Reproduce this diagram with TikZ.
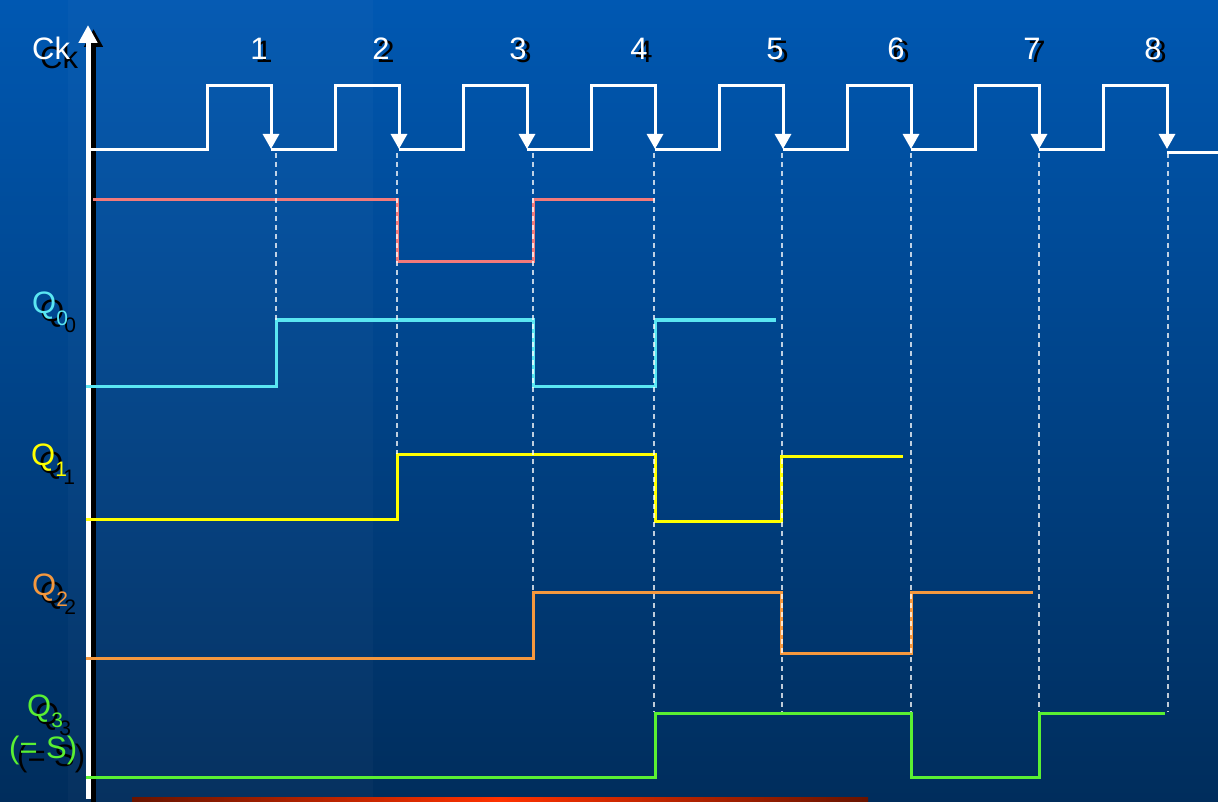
\documentclass[tikz,border=0pt]{standalone}
\usepackage{fontspec}
\setmainfont{Liberation Sans}
\usepackage{tikz}
\usetikzlibrary{arrows.meta}
\usepackage{xcolor}
\definecolor{bgtop}{RGB}{0,88,178}
\definecolor{bgbot}{RGB}{0,45,92}
\definecolor{qpink}{RGB}{242,122,122}
\definecolor{qcyan}{RGB}{90,230,242}
\definecolor{qyel}{RGB}{255,255,0}
\definecolor{qorg}{RGB}{245,152,62}
\definecolor{qgrn}{RGB}{90,240,50}
\definecolor{barmid}{RGB}{255,50,0}
\definecolor{barend}{RGB}{105,20,0}
\newcommand{\qlab}[1]{Q\raisebox{-11pt}{\fontsize{21}{21}\selectfont #1}}

\begin{document}
\begin{tikzpicture}[x=1pt,y=-1pt,
    lbl/.style={anchor=base west,inner sep=0pt,font=\fontsize{31}{31}\selectfont},
    num/.style={anchor=base,inner sep=0pt,font=\fontsize{31}{31}\selectfont},
    ck/.style={white,line width=3pt,-{Triangle[width=16pt,length=15pt]}},
    axis/.style={line width=5pt,-{Triangle[width=18pt,length=18pt]}},
    sig/.style={line width=3pt},
    guide/.style={white,opacity=0.75,line width=1.1pt,dash pattern=on 5pt off 4pt},
  ]
    \useasboundingbox (0,0) rectangle (1218,802);
    \shade[top color=bgtop,bottom color=bgbot] (0,0) rectangle (1218,802);
    \fill[white,opacity=0.025] (68,0) rectangle (373,802);
    \shade[left color=barend,right color=barend,middle color=barmid] (132,797) rectangle (868,802);

    \draw[axis,black] (93.5,802) -- (93.5,29);
    \draw[axis,white] (88,799) -- (88,25);

    \node[lbl,black] (CKs) at (40,69) {Ck};
    \node[lbl,white] (CK)  at (32,60) {Ck};
    \foreach \n/\x in {1/259,2/381,3/518,4/639,5/775,6/896,7/1032,8/1153}{
      \node[num,black] (S\n) at (\x+5,63) {\n};
      \node[num,white] (N\n) at (\x,60) {\n};
    }

    \draw[white,line width=3pt] (88,150) -- (143,150);
    \foreach \k in {1,...,8}{
      \pgfmathsetmacro{\f}{143+128*\k}
      \draw[ck] (\f-128,150) -- (\f-64,150) -- (\f-64,86) -- (\f,86) -- (\f,149);
    }
    \draw[white,line width=3pt] (1167,153) -- (1218,153);

    \draw[sig,qpink] (93,200) -- (397,200) -- (397,262) -- (533,262) -- (533,200) -- (655,200);
    \draw[sig,qcyan] (86,386) -- (276,386) -- (276,320) -- (533,320) -- (533,386) -- (655,386) -- (655,320) -- (776,320);
    \draw[sig,qyel]  (86,519) -- (397,519) -- (397,454) -- (655,454) -- (655,521) -- (781,521) -- (781,456) -- (903,456);
    \draw[sig,qorg]  (86,658) -- (533,658) -- (533,592) -- (781,592) -- (781,653) -- (911,653) -- (911,592) -- (1033,592);
    \draw[sig,qgrn]  (86,777) -- (655,777) -- (655,713) -- (911,713) -- (911,777) -- (1039,777) -- (1039,713) -- (1165,713);

    \foreach \x/\e in {276/320,397/454,533/592,654/712,782/712,911/712,1039/712,1168/712}
      \draw[guide] (\x,153) -- (\x,\e);

    \node[lbl,black] (Q0s) at (40,322) {\qlab{0}};
    \node[lbl,qcyan] (Q0)  at (32,314) {\qlab{0}};
    \node[lbl,black] (Q1s) at (39,473) {\qlab{1}};
    \node[lbl,qyel]  (Q1)  at (31,465) {\qlab{1}};
    \node[lbl,black] (Q2s) at (40,603) {\qlab{2}};
    \node[lbl,qorg]  (Q2)  at (32,595) {\qlab{2}};
    \node[lbl,black] (Q3s) at (35,724) {\qlab{3}};
    \node[lbl,qgrn]  (Q3)  at (27,716) {\qlab{3}};
    \node[lbl,black] (SSs) at (17,766) {(= S)};
    \node[lbl,qgrn]  (SS)  at (9,758) {(= S)};
  \end{tikzpicture}
\end{document}
